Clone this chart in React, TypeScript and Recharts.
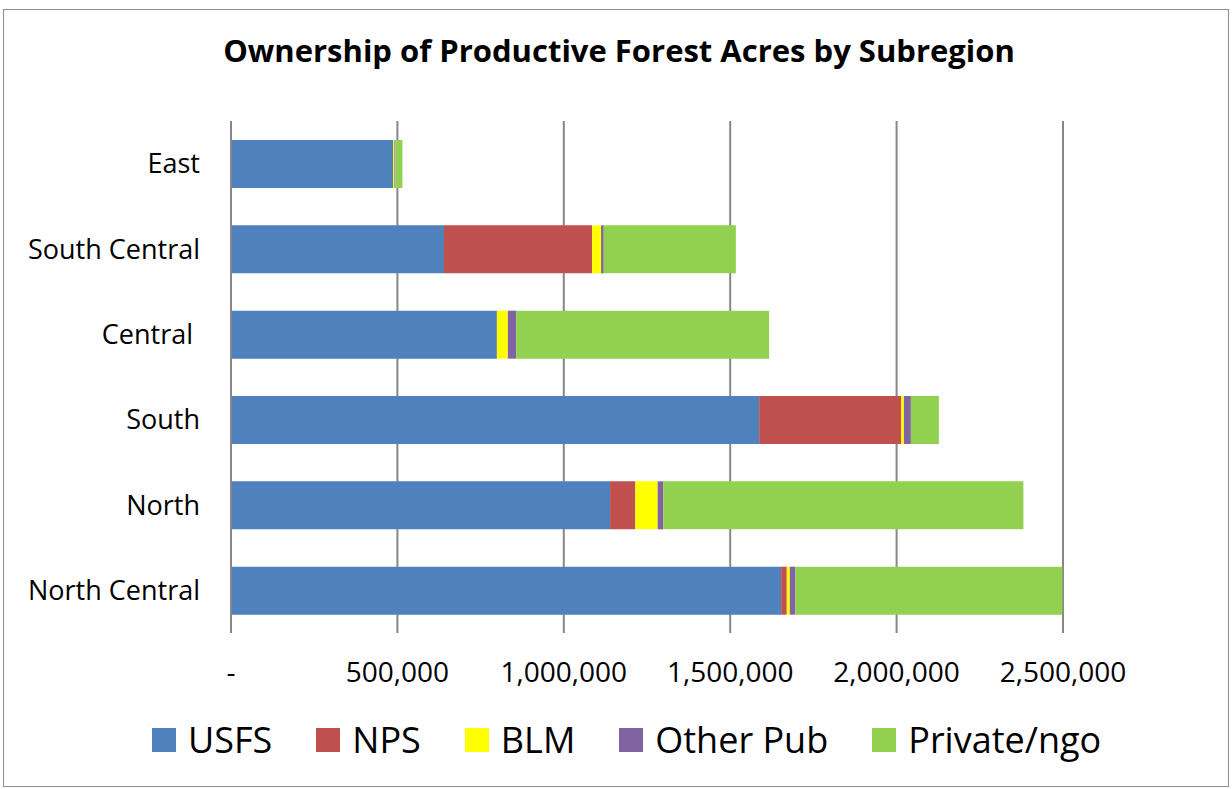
import React from "react";
import {
  BarChart,
  Bar,
  XAxis,
  YAxis,
  CartesianGrid,
} from "recharts";

const subregions = ["East", "South Central", "Central\u00A0", "South", "North", "North Central"];
const usfs = [487000, 640000, 799000, 1587000, 1139000, 1653000];
const nps = [0, 445000, 0, 427000, 76000, 17000];
const blm = [4000, 27000, 33000, 8000, 67000, 9000];
const otherPub = [3000, 8000, 25000, 21000, 17000, 17000];
const privateNgo = [21000, 397000, 760000, 84000, 1082000, 802000];
const xTicks = [0, 500000, 1000000, 1500000, 2000000, 2500000];

const SERIES = [
  { key: "usfs", name: "USFS", color: "#4F81BD" },
  { key: "nps", name: "NPS", color: "#C0504D" },
  { key: "blm", name: "BLM", color: "#FFFF00" },
  { key: "otherPub", name: "Other Pub", color: "#8064A2" },
  { key: "privateNgo", name: "Private/ngo", color: "#92D050" },
];

const data = subregions.map((name, i) => ({
  name,
  usfs: usfs[i],
  nps: nps[i],
  blm: blm[i],
  otherPub: otherPub[i],
  privateNgo: privateNgo[i],
}));

const FONT = "'Open Sans', sans-serif";

function formatAcres(v: number) {
  return v === 0 ? "-" : v.toLocaleString("en-US");
}

export default function App() {
  return (
    <div
      style={{
        position: "relative",
        width: 1232,
        height: 789,
        background: "#fff",
        fontFamily: FONT,
      }}
    >
      <style>{`body{margin:0}`}</style>
      <div
        style={{
          position: "absolute",
          left: 3,
          top: 9,
          width: 1226,
          height: 778,
          border: "1px solid #8c8c8c",
          boxSizing: "border-box",
        }}
      />
      <div
        style={{
          position: "absolute",
          top: 29,
          left: 0,
          width: 1238,
          textAlign: "center",
          fontWeight: 700,
          fontSize: 31,
          color: "#000",
        }}
      >
        Ownership of Productive Forest Acres by Subregion
      </div>
      <BarChart
        width={1232}
        height={789}
        data={data}
        layout="vertical"
        margin={{ top: 121, right: 169, bottom: 96, left: 0 }}
        barSize={48}
        style={{ position: "absolute", left: 0, top: 0 }}
      >
        <CartesianGrid horizontal={false} stroke="#878787" strokeWidth={2} />
        <XAxis
          type="number"
          domain={[0, 2500000]}
          ticks={xTicks}
          tickFormatter={formatAcres}
          axisLine={false}
          tickLine={false}
          tickMargin={23}
          height={60}
          tick={{ fill: "#000", fontSize: 28, fontFamily: FONT }}
        />
        <YAxis
          type="category"
          dataKey="name"
          width={231}
          axisLine={{ stroke: "#878787", strokeWidth: 2 }}
          tickLine={false}
          tickMargin={25}
          tick={{ fill: "#000", fontSize: 27, fontFamily: FONT }}
        />
        {SERIES.map((s) => (
          <Bar
            key={s.key}
            dataKey={s.key}
            name={s.name}
            stackId="a"
            fill={s.color}
            isAnimationActive={false}
          />
        ))}
      </BarChart>
      <div
        style={{
          position: "absolute",
          left: 152,
          top: 715,
          display: "flex",
          alignItems: "center",
          gap: 44,
          fontSize: 36,
          color: "#000",
        }}
      >
        {SERIES.map((s) => (
          <div key={s.key} style={{ display: "flex", alignItems: "center", gap: 12 }}>
            <span style={{ width: 24, height: 24, background: s.color, display: "inline-block" }} />
            <span>{s.name}</span>
          </div>
        ))}
      </div>
    </div>
  );
}
